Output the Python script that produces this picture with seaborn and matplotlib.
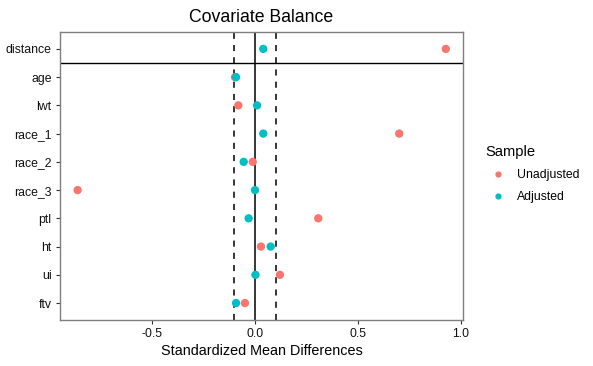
import numpy as np
import pandas as pd
import matplotlib
matplotlib.use("Agg")
import matplotlib.pyplot as plt
import seaborn as sns

covariates = ["distance", "age", "lwt", "race_1", "race_2", "race_3", "ptl", "ht", "ui", "ftv"]
unadjusted = [0.926, -0.097, -0.081, 0.700, -0.011, -0.861, 0.307, 0.029, 0.121, -0.049]
adjusted = [0.040, -0.092, 0.010, 0.040, -0.055, 0.000, -0.031, 0.076, 0.002, -0.092]
samples = ["Unadjusted", "Adjusted"]
colors = ["#F8766D", "#00BFC4"]
threshold = 0.1
x_ticks = [-0.5, 0.0, 0.5, 1.0]

df = pd.DataFrame({
    "var": covariates * 2,
    "smd": unadjusted + adjusted,
    "Sample": [samples[0]] * len(covariates) + [samples[1]] * len(covariates),
})

sns.set_style("white")
plt.rcParams["font.family"] = ["Liberation Sans", "DejaVu Sans"]
plt.rcParams["axes.unicode_minus"] = False
plt.rcParams["text.color"] = "black"

fig = plt.figure(figsize=(5.93, 3.66), dpi=100)
ax = fig.add_axes([0.101, 0.1257, 0.68, 0.787])

# reference lines first so points sit on top
ax.axvline(0, color="black", lw=1.1, zorder=1)
ax.axvline(-threshold, color="black", lw=1.1, ls=(0, (4, 4)), zorder=1)
ax.axvline(threshold, color="black", lw=1.1, ls=(0, (4, 4)), zorder=1)
ax.axhline(0.5, color="black", lw=1.0, zorder=1)

sns.stripplot(data=df, x="smd", y="var", hue="Sample", order=covariates,
              hue_order=samples, palette=colors, jitter=False, size=6,
              linewidth=0, ax=ax, zorder=3)

ax.set_xlim(-0.947, 1.01)
ax.set_ylim(len(covariates) - 1 + 0.6, -0.6)
ax.set_xticks(x_ticks)
ax.set_xticklabels([f"{t:.1f}" for t in x_ticks])
ax.tick_params(axis="both", length=3, width=0.8, color="#333333",
               labelsize=8.8, labelcolor="#111111", pad=3, left=True, bottom=True)
for s in ax.spines.values():
    s.set_color("#7f7f7f")
    s.set_linewidth(1.0)
ax.set_xlabel("Standardized Mean Differences", fontsize=10.4, labelpad=3, color="black")
ax.set_ylabel("")
ax.set_title("Covariate Balance", fontsize=12.7, pad=7, color="black")

handles, labels = ax.get_legend_handles_labels()
ax.get_legend().remove()
leg = fig.legend(handles, labels, title="Sample", loc="upper left",
                 bbox_to_anchor=(0.8, 0.633), frameon=False, fontsize=8.8,
                 title_fontsize=10.6, handletextpad=0.6, labelspacing=0.8,
                 markerscale=0.75)
leg._legend_box.align = "left"

fig.savefig("out.png", dpi=100)
